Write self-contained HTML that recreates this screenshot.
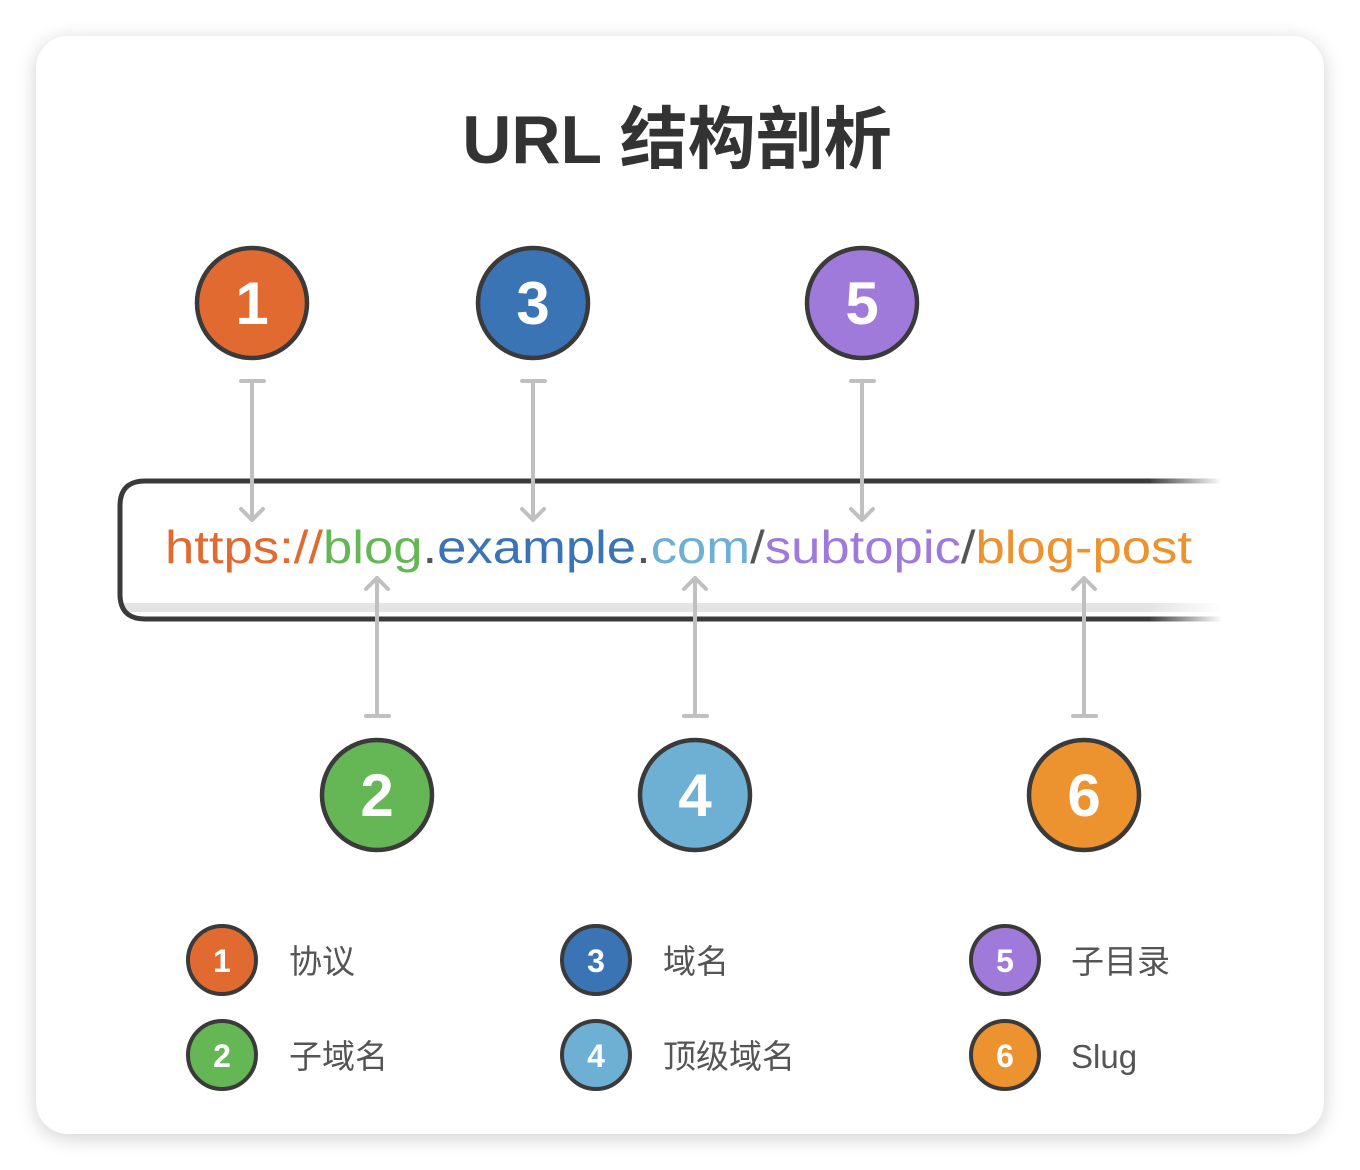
<!DOCTYPE html>
<html><head><meta charset="utf-8"><style>
html,body{margin:0;padding:0;background:#fff;width:1360px;height:1170px;overflow:hidden}
</style></head><body>
<svg width="1360" height="1170" viewBox="0 0 1360 1170" xmlns="http://www.w3.org/2000/svg">
<defs>
<filter id="sh" x="-10%" y="-10%" width="120%" height="120%"><feGaussianBlur stdDeviation="10"/></filter>
<linearGradient id="fade" gradientUnits="userSpaceOnUse" x1="1148" x2="1222" y1="0" y2="0">
<stop offset="0" stop-color="#3a3a3a" stop-opacity="1"/>
<stop offset="1" stop-color="#3a3a3a" stop-opacity="0"/>
</linearGradient>
<linearGradient id="fade2" gradientUnits="userSpaceOnUse" x1="1148" x2="1222" y1="0" y2="0">
<stop offset="0" stop-color="#e4e4e4" stop-opacity="1"/>
<stop offset="1" stop-color="#e4e4e4" stop-opacity="0"/>
</linearGradient>
</defs>
<rect x="0" y="0" width="1360" height="1170" fill="#fff"/>
<rect x="36" y="40" width="1288" height="1098" rx="32" fill="#000" opacity="0.18" filter="url(#sh)"/>
<rect x="36" y="36" width="1288" height="1098" rx="32" fill="#fff"/>
<text x="677" y="163" text-anchor="middle" font-family="Liberation Sans, Noto Sans CJK SC, sans-serif" font-weight="bold" font-size="68" fill="#333">URL 结构剖析</text>

<!-- url box -->
<path d="M124 603 H1150 V612 H124 Z" fill="#e4e4e4"/>
<rect x="1148" y="603" width="74" height="9" fill="url(#fade2)"/>
<path d="M1150 481 H145 Q120 481 120 506 V594 Q120 619 145 619 H1150" fill="none" stroke="#3a3a3a" stroke-width="5"/>
<rect x="1148" y="478.5" width="74" height="5" fill="url(#fade)"/>
<rect x="1148" y="616.5" width="74" height="5" fill="url(#fade)"/>
<text x="165" y="563" font-family="Liberation Sans, sans-serif" font-size="46" textLength="1027" lengthAdjust="spacingAndGlyphs"><tspan fill="#e06a30">https://</tspan><tspan fill="#65b655">blog</tspan><tspan fill="#555">.</tspan><tspan fill="#3a74b5">example</tspan><tspan fill="#555">.</tspan><tspan fill="#6eafd4">com</tspan><tspan fill="#555">/</tspan><tspan fill="#a07adb">subtopic</tspan><tspan fill="#555">/</tspan><tspan fill="#ec922e">blog-post</tspan></text>

<!-- connectors -->
<g stroke="#c0c0c0" stroke-width="4" fill="none" stroke-linecap="round" stroke-linejoin="round">
<path d="M241 381 H264 M252 381 V520 M241 509 L252 520 L263 509"/>
<path d="M522 381 H545 M533 381 V520 M522 509 L533 520 L544 509"/>
<path d="M851 381 H874 M862 381 V520 M851 509 L862 520 L873 509"/>
<path d="M366 716 H389 M377 716 V578 M366 589 L377 578 L388 589"/>
<path d="M684 716 H707 M695 716 V578 M684 589 L695 578 L706 589"/>
<path d="M1073 716 H1096 M1084 716 V578 M1073 589 L1084 578 L1095 589"/>
</g>

<!-- big circles -->
<g stroke="#3a3a3a" stroke-width="4.5">
<circle cx="252" cy="303" r="55" fill="#e06a30"/>
<circle cx="533" cy="303" r="55" fill="#3a74b5"/>
<circle cx="862" cy="303" r="55" fill="#a07adb"/>
<circle cx="377" cy="795" r="55" fill="#65b655"/>
<circle cx="695" cy="795" r="55" fill="#6eafd4"/>
<circle cx="1084" cy="795" r="55" fill="#ec922e"/>
</g>
<g fill="#fff" font-family="Liberation Sans, sans-serif" font-weight="bold" font-size="60" text-anchor="middle">
<text x="252" y="324">1</text><text x="533" y="324">3</text><text x="862" y="324">5</text>
<text x="377" y="816">2</text><text x="695" y="816">4</text><text x="1084" y="816">6</text>
</g>

<!-- legend -->
<g stroke="#3a3a3a" stroke-width="4">
<circle cx="222" cy="960" r="34" fill="#e06a30"/>
<circle cx="222" cy="1055" r="34" fill="#65b655"/>
<circle cx="596" cy="960" r="34" fill="#3a74b5"/>
<circle cx="596" cy="1055" r="34" fill="#6eafd4"/>
<circle cx="1005" cy="960" r="34" fill="#a07adb"/>
<circle cx="1005" cy="1055" r="34" fill="#ec922e"/>
</g>
<g fill="#fff" font-family="Liberation Sans, sans-serif" font-weight="bold" font-size="32" text-anchor="middle">
<text x="222" y="972">1</text><text x="222" y="1067">2</text>
<text x="596" y="972">3</text><text x="596" y="1067">4</text>
<text x="1005" y="972">5</text><text x="1005" y="1067">6</text>
</g>
<g fill="#555" font-family="Liberation Sans, Noto Sans CJK SC, sans-serif" font-size="33">
<text x="289" y="973">协议</text><text x="289" y="1068">子域名</text>
<text x="663" y="973">域名</text><text x="663" y="1068">顶级域名</text>
<text x="1071" y="973">子目录</text><text x="1071" y="1068">Slug</text>
</g>
</svg>
</body></html>
